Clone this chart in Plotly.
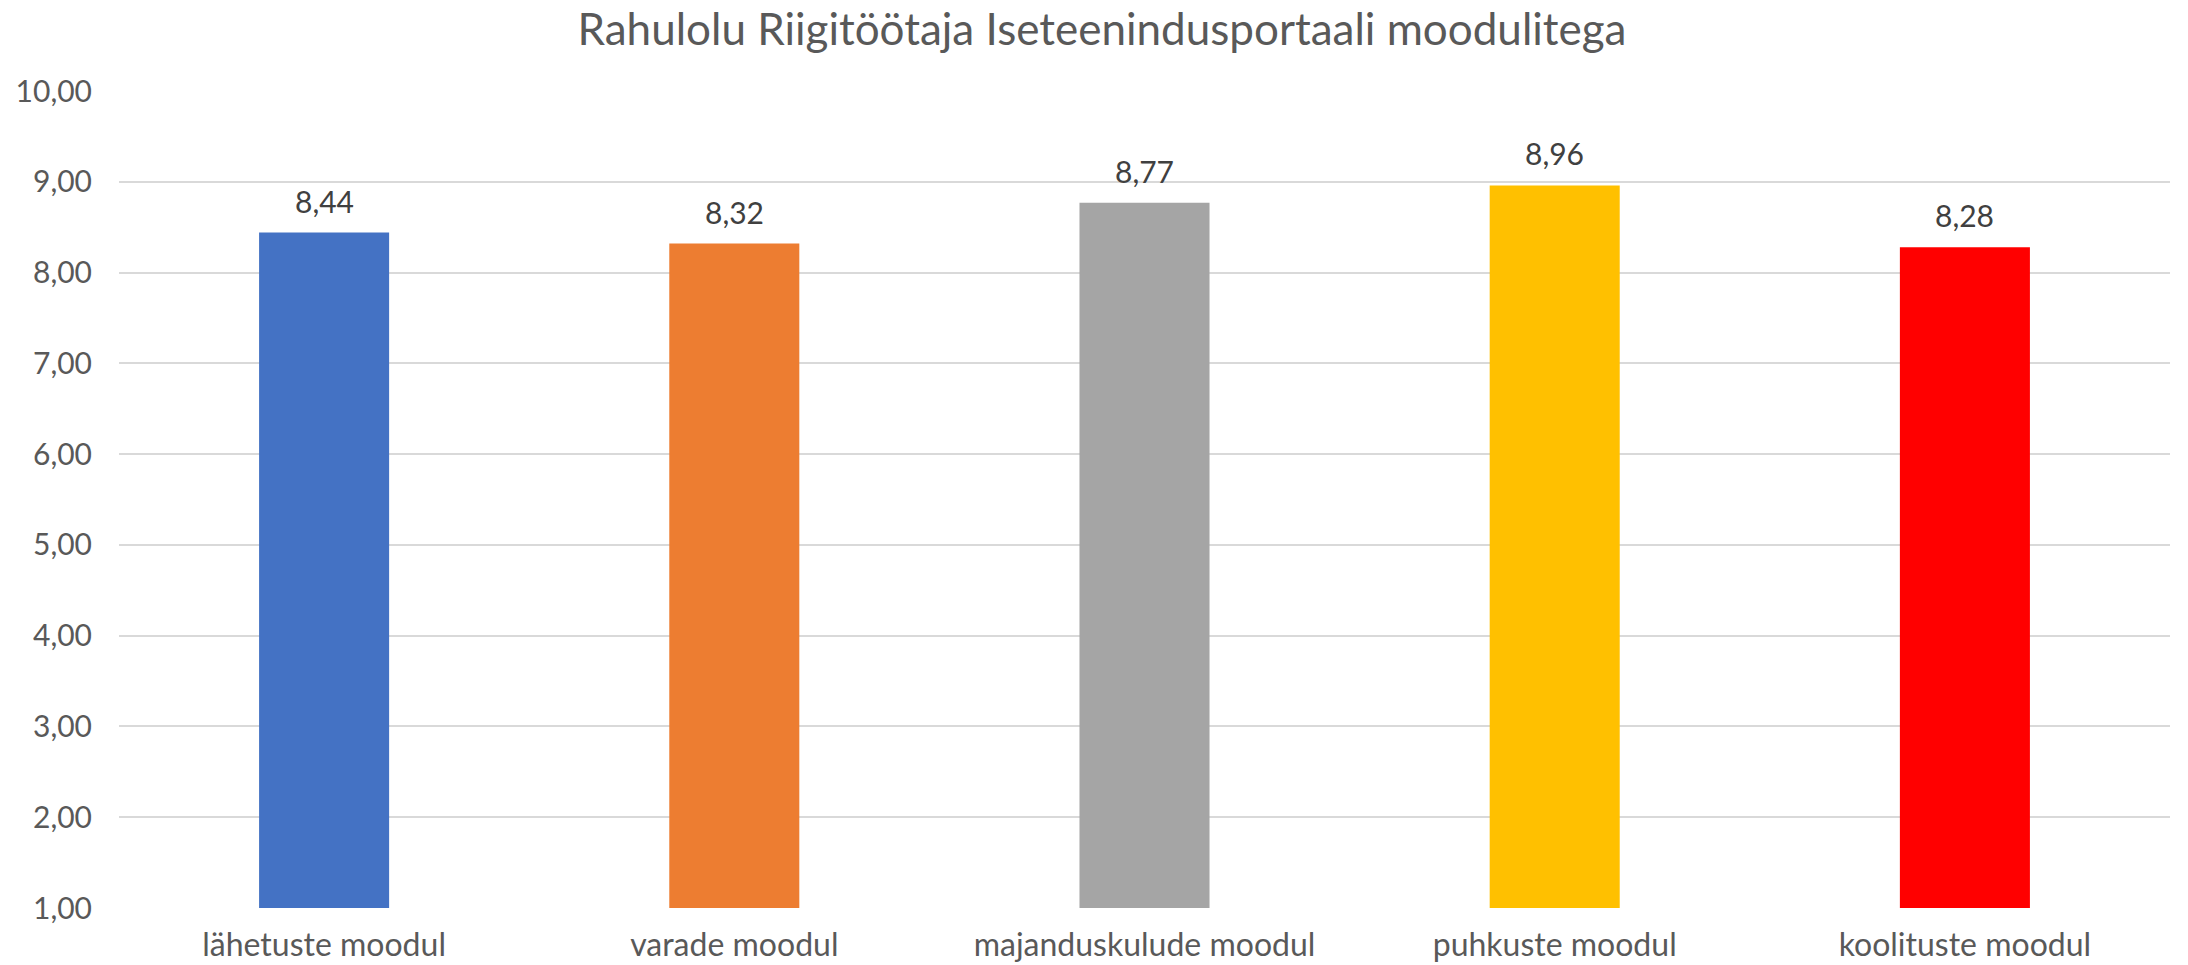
import plotly.graph_objects as go

# survey results per module
categories = ["lähetuste moodul", "varade moodul", "majanduskulude moodul", "puhkuste moodul", "koolituste moodul"]
scores = [8.44, 8.32, 8.77, 8.96, 8.28]
bar_colors = ["#4472C4", "#ED7D31", "#A5A5A5", "#FFC000", "#FF0000"]
y_ticks = [1, 2, 3, 4, 5, 6, 7, 8, 9, 10]

FONT = "Lato"
# page body has an 8px margin, so the figure is a bit smaller than the window
W, H = 2180, 957

fig = go.Figure()
fig.add_trace(go.Bar(
    x=categories, y=scores,
    marker=dict(color=bar_colors, line=dict(width=0)),
    width=0.317,
    hoverinfo="skip",
))

# value labels above the bars
for cat, val in zip(categories, scores):
    fig.add_annotation(
        x=cat, y=val, text=f"{val:.2f}".replace(".", ","),
        showarrow=False, yanchor="middle", yshift=32,
        font=dict(family=FONT, size=30, color="#404040"),
    )

fig.update_layout(
    width=W, height=H,
    paper_bgcolor="white", plot_bgcolor="white",
    separators=", ",
    margin=dict(l=111, r=18, t=83, b=57),
    showlegend=False,
    title=dict(text="Rahulolu Riigitöötaja Iseteenindusportaali moodulitega",
               x=1094 / W, xanchor="center", y=1, yanchor="top",
               pad=dict(t=6),
               font=dict(family=FONT, size=44, color="#595959")),
    xaxis=dict(showgrid=False, showline=False, ticks="", zeroline=False,
               tickfont=dict(family=FONT, size=32, color="#595959"),
               ticklabelstandoff=15, automargin=False),
    yaxis=dict(range=[1, 10], tickvals=y_ticks, tickformat=".2f",
               showgrid=True, gridcolor="#D9D9D9", gridwidth=2,
               zeroline=False, showline=False, ticks="",
               tickfont=dict(family=FONT, size=30, color="#595959"),
               ticklabelstandoff=26, automargin=False),
)

fig.write_html("out.html")
